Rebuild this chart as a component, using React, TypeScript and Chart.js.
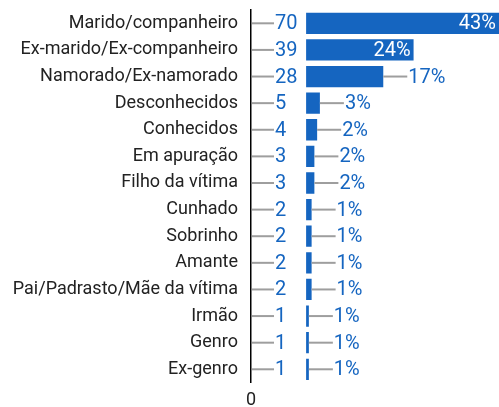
import React, { useEffect, useRef } from "react";
import { Chart, registerables } from "chart.js";

Chart.register(...registerables);

const categories = [
  "Marido/companheiro",
  "Ex-marido/Ex-companheiro",
  "Namorado/Ex-namorado",
  "Desconhecidos",
  "Conhecidos",
  "Em apuração",
  "Filho da vítima",
  "Cunhado",
  "Sobrinho",
  "Amante",
  "Pai/Padrasto/Mãe da vítima",
  "Irmão",
  "Genro",
  "Ex-genro",
];
const counts = [70, 39, 28, 5, 4, 3, 3, 2, 2, 2, 2, 1, 1, 1];
const percentLabels = ["43%", "24%", "17%", "3%", "2%", "2%", "2%", "1%", "1%", "1%", "1%", "1%", "1%", "1%"];
const axisTickLabel = "0";

const BLUE = "#1565C0";
const FONT = "Roboto, 'Noto Sans', sans-serif";

const labelPlugin = {
  id: "valueLabels",
  afterDatasetsDraw(chart: any) {
    const ctx = chart.ctx;
    const area = chart.chartArea;
    const meta = chart.getDatasetMeta(0);
    ctx.save();
    ctx.font = `20px ${FONT}`;
    ctx.textBaseline = "middle";
    meta.data.forEach((bar: any, i: number) => {
      const y = bar.y;
      ctx.strokeStyle = "#9e9e9e";
      ctx.lineWidth = 2;
      ctx.beginPath();
      ctx.moveTo(area.left + 1, y);
      ctx.lineTo(area.left + 23, y);
      ctx.stroke();
      ctx.fillStyle = BLUE;
      ctx.textAlign = "left";
      ctx.fillText(String(counts[i]), area.left + 24, y + 1);
      const txt = percentLabels[i];
      const inside = counts[i] / Math.max(...counts) > 0.5;
      if (inside) {
        ctx.fillStyle = "#ffffff";
        ctx.textAlign = "right";
        ctx.fillText(txt, Math.min(bar.x, area.right) - 3, y + 1);
      } else {
        ctx.strokeStyle = "#9e9e9e";
        ctx.beginPath();
        ctx.moveTo(bar.x, y);
        ctx.lineTo(bar.x + 24, y);
        ctx.stroke();
        ctx.fillStyle = BLUE;
        ctx.textAlign = "left";
        ctx.fillText(txt, bar.x + 25, y + 1);
      }
    });
    ctx.restore();
  },
};

export default function App() {
  const ref = useRef<HTMLCanvasElement | null>(null);
  useEffect(() => {
    if (!ref.current) return;
    const chart = new Chart(ref.current, {
      type: "bar",
      data: {
        labels: categories,
        datasets: [
          {
            data: counts,
            backgroundColor: BLUE,
            barPercentage: 0.8,
            categoryPercentage: 1,
          },
        ],
      },
      options: {
        indexAxis: "y",
        responsive: false,
        animation: false,
        layout: { padding: { top: 10, left: 0, right: 0, bottom: 0 } },
        plugins: { legend: { display: false }, tooltip: { enabled: false } },
        scales: {
          x: {
            min: -20,
            max: 70,
            grid: { display: false, drawTicks: false },
            border: { display: false },
            afterFit(scale: any) {
              scale.height = 24.4;
              scale.paddingLeft = 0;
              scale.paddingRight = 0;
            },
            afterBuildTicks(scale: any) {
              scale.ticks = [{ value: -20 }];
            },
            ticks: {
              autoSkip: false,
              maxRotation: 0,
              padding: 7,
              color: "#222222",
              font: { family: FONT, size: 18 },
              callback: () => axisTickLabel,
            },
          },
          y: {
            grid: { display: false, drawTicks: false },
            border: { display: true, color: "#000000", width: 1.5 },
            afterFit(scale: any) {
              scale.width = 251;
              scale.paddingTop = 0;
              scale.paddingBottom = 0;
            },
            ticks: {
              padding: 13,
              color: "#222222",
              font: { family: FONT, size: 18 },
              autoSkip: false,
            },
          },
        },
      },
      plugins: [labelPlugin],
    });
    return () => chart.destroy();
  }, []);
  return (
    <div style={{ position: "fixed", left: 0, top: 0, width: 499, height: 407, background: "#fff" }}>
      <canvas ref={ref} width={499} height={407} style={{ display: "block", width: 499, height: 407 }} />
    </div>
  );
}
